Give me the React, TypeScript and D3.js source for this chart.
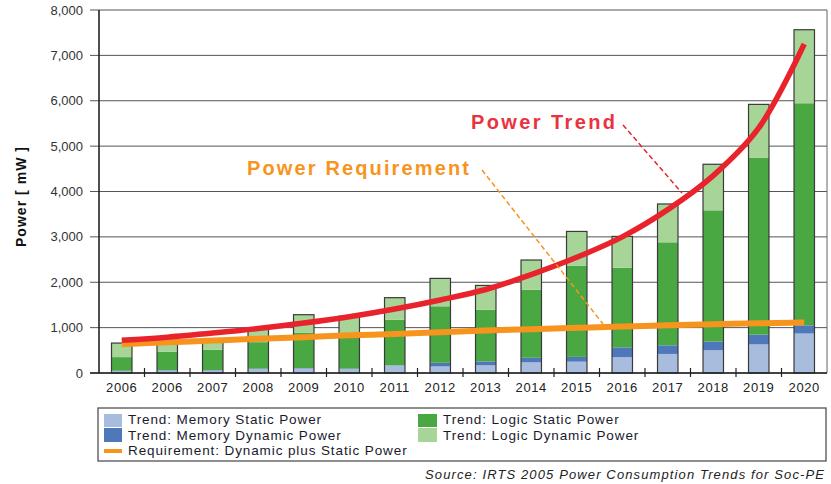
import React from 'react';
import * as d3 from 'd3';

// categories (the source repeats 2006)
const years = ['2006', '2006', '2007', '2008', '2009', '2010', '2011', '2012', '2013', '2014', '2015', '2016', '2017', '2018', '2019', '2020'];

// stacked segments, mW
const memStatic = [40, 55, 55, 85, 100, 85, 165, 145, 170, 235, 250, 350, 420, 500, 630, 870];
const memDynamic = [10, 10, 10, 10, 10, 10, 5, 80, 85, 100, 105, 215, 190, 195, 215, 180];
const logicStatic = [300, 405, 445, 585, 780, 735, 1005, 1245, 1140, 1500, 2005, 1755, 2270, 2890, 3895, 4895];
const logicDynamic = [310, 265, 235, 320, 395, 420, 485, 615, 535, 655, 760, 690, 845, 1015, 1180, 1620];

// overlay curves
const trendValues = [720, 790, 880, 980, 1100, 1240, 1410, 1610, 1840, 2170, 2550, 3000, 3600, 4350, 5400, 7250];
const requirementValues = [635, 675, 715, 755, 790, 830, 860, 900, 935, 965, 995, 1025, 1050, 1075, 1095, 1115];

const yTicks = [0, 1000, 2000, 3000, 4000, 5000, 6000, 7000, 8000];

const seriesKeys = ['memStatic', 'memDynamic', 'logicStatic', 'logicDynamic'];
const seriesColors: Record<string, string> = {
  memStatic: '#a8bcdd',
  memDynamic: '#4f78ba',
  logicStatic: '#4aa843',
  logicDynamic: '#a7d597',
};

const W = 831;
const H = 484;
const left = 99;
const right = 827;
const top = 10;
const bottom = 373;

export default function App() {
  const x = d3.scaleBand<number>()
    .domain(d3.range(years.length))
    .range([left, right])
    .paddingInner(0.55)
    .paddingOuter(0.275);
  const y = d3.scaleLinear().domain([0, 8000]).range([bottom, top]);

  const rows = years.map((yr, i) => ({
    i,
    memStatic: memStatic[i],
    memDynamic: memDynamic[i],
    logicStatic: logicStatic[i],
    logicDynamic: logicDynamic[i],
  }));
  const stacked = d3.stack<any>().keys(seriesKeys)(rows);

  const cx = (i: number) => (x(i) as number) + x.bandwidth() / 2;
  const line = d3.line<number>()
    .x((_, i) => cx(i))
    .y(d => y(d))
    .curve(d3.curveCatmullRom.alpha(0.5));

  const step = (right - left) / years.length;
  const font = 'Liberation Sans, Arial, sans-serif';

  return (
    <svg width={W} height={H} style={{ position: 'absolute', left: 0, top: 0, background: '#fff' }} fontFamily={font}>
      {/* grid */}
      {yTicks.map(t => (
        <line key={'g' + t} x1={left - 9} x2={right} y1={y(t)} y2={y(t)} stroke="#555" strokeWidth={1} />
      ))}
      <line x1={right} x2={right} y1={top} y2={bottom} stroke="#666" strokeWidth={1} />
      {yTicks.map(t => (
        <text key={'yt' + t} x={83} y={y(t) + 4.5} textAnchor="end" fontSize={13} fill="#333">
          {d3.format(',')(t)}
        </text>
      ))}

      {/* bars */}
      {stacked.map(s => (
        <g key={s.key} fill={seriesColors[s.key]}>
          {s.map((d, i) => (
            <rect key={i} x={x(i)} width={x.bandwidth()} y={y(d[1])} height={y(d[0]) - y(d[1])} />
          ))}
        </g>
      ))}
      {rows.map((r, i) => {
        const total = memStatic[i] + memDynamic[i] + logicStatic[i] + logicDynamic[i];
        return (
          <rect key={'o' + i} x={x(i)} width={x.bandwidth()} y={y(total)} height={y(0) - y(total)}
            fill="none" stroke="#3a3a3a" strokeWidth={1.2} />
        );
      })}

      {/* axes */}
      <line x1={left} x2={left} y1={top} y2={bottom} stroke="#222" strokeWidth={1.6} />
      <line x1={left - 9} x2={right} y1={bottom} y2={bottom} stroke="#222" strokeWidth={1.6} />
      {d3.range(1, years.length).map(k => (
        <line key={'xt' + k} x1={left + k * step} x2={left + k * step} y1={bottom - 5} y2={bottom + 4} stroke="#222" strokeWidth={1.2} />
      ))}
      {years.map((yr, i) => (
        <text key={'xl' + i} x={cx(i)} y={392} textAnchor="middle" fontSize={13} letterSpacing={0.6} fill="#222">
          {yr}
        </text>
      ))}

      <text transform="translate(26,197) rotate(-90)" textAnchor="middle" fontSize={14} fontWeight="bold" fill="#111"
        textLength={100} lengthAdjust="spacing">
        Power [ mW ]
      </text>

      {/* curves */}
      <path d={line(requirementValues) || ''} fill="none" stroke="#f7941d" strokeWidth={6} />
      <path d={line(trendValues) || ''} fill="none" stroke="#e8232b" strokeWidth={5.5} />

      {/* annotations */}
      <line x1={623} y1={125} x2={682} y2={193} stroke="#e8232b" strokeWidth={1.5} strokeDasharray="5,3" />
      <text x={471} y={129} fontSize={20} fontWeight="bold" fill="#ea3340" textLength={144} lengthAdjust="spacing">
        Power  Trend
      </text>
      <line x1={482} y1={170} x2={603} y2={324} stroke="#f7941d" strokeWidth={1.5} strokeDasharray="5,3" />
      <text x={247} y={175} fontSize={20} fontWeight="bold" fill="#f7941d" textLength={222} lengthAdjust="spacing">
        Power  Requirement
      </text>

      {/* legend */}
      <rect x={98} y={408} width={728} height={53} fill="#fff" stroke="#444" strokeWidth={1.2} />
      <rect x={104} y={414} width={18} height={13} fill={seriesColors.memStatic} />
      <rect x={104} y={428} width={18} height={14} fill={seriesColors.memDynamic} />
      <rect x={104} y={449} width={18} height={4} fill="#f7941d" />
      <rect x={418} y={414} width={19} height={13} fill={seriesColors.logicStatic} />
      <rect x={418} y={428} width={19} height={14} fill={seriesColors.logicDynamic} />
      <g fontSize={13.5} fill="#1a1a2e" letterSpacing={0.9}>
        <text x={128} y={424}>Trend: Memory Static Power</text>
        <text x={128} y={440}>Trend: Memory Dynamic Power</text>
        <text x={128} y={455}>Requirement: Dynamic plus Static Power</text>
        <text x={443} y={424}>Trend: Logic Static Power</text>
        <text x={443} y={440}>Trend: Logic Dynamic Power</text>
      </g>
      <text x={425} y={479} fontSize={13} fontStyle="italic" fill="#222" textLength={399} lengthAdjust="spacing">
        Source: IRTS 2005 Power Consumption Trends for Soc-PE
      </text>
    </svg>
  );
}
